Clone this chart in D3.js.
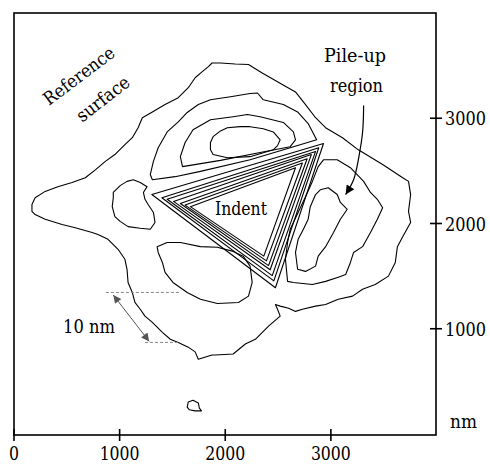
<!DOCTYPE html>
<html>
<head>
<meta charset="utf-8">
<script src="https://cdn.jsdelivr.net/npm/d3@7"></script>
<style>
  body { margin: 0; background: #fff; }
  svg text { font-family: "DejaVu Serif", "Noto Serif", serif; }
</style>
</head>
<body>
<div id="indent_map"></div>
<script>
// tick values (nm)
var xTicks = [0, 1000, 2000, 3000];
var yTicks = [1000, 2000, 3000];

// contour lines, [x nm, y nm]
var outerContour = [
  [170,2180],[200,2245],[295,2305],[415,2350],[550,2390],[675,2435],[770,2510],[865,2590],
  [955,2655],[1050,2750],[1120,2815],[1175,2910],[1215,3005],[1310,3060],[1430,3130],
  [1555,3195],[1650,3290],[1715,3385],[1780,3440],[1840,3490],[1875,3525],[1955,3525],
  [2095,3515],[2220,3510],[2350,3430],[2540,3320],[2665,3250],[2760,3130],[2855,3005],
  [2950,2910],[3110,2815],[3260,2700],[3490,2560],[3680,2435],[3735,2400],[3755,2275],
  [3735,2115],[3755,2010],[3680,1875],[3630,1780],[3610,1630],[3545,1500],[3420,1420],
  [3300,1375],[3205,1310],[3070,1280],[2950,1230],[2855,1215],[2730,1185],[2665,1165],
  [2600,1195],[2520,1215],[2475,1230],[2495,1185],[2520,1120],[2410,1025],[2285,900],
  [2190,855],[2075,760],[1905,750],[1875,750],[1745,710],[1715,780],[1650,825],[1555,870],
  [1480,900],[1405,965],[1310,1060],[1240,1120],[1195,1185],[1145,1250],[1120,1345],
  [1080,1440],[1070,1565],[1050,1660],[985,1755],[890,1850],[795,1895],[740,1915],
  [580,1960],[455,1990],[295,2040],[200,2085],[170,2115]
];

var upperLobeOuter = [
  [2865,2795],[2785,2950],[2685,3060],[2550,3130],[2360,3175],[2305,3240],[2235,3235],
  [2050,3205],[1860,3175],[1745,3130],[1640,3055],[1555,2965],[1450,2870],[1365,2720],
  [1320,2590],[1290,2465],[1310,2415],[1525,2445],[1765,2495],[2235,2605],[2615,2720]
];

var upperLobeMiddle = [
  [1595,2540],[1575,2635],[1620,2770],[1695,2890],[1860,2985],[2075,3015],[2210,3035],
  [2330,3015],[2550,2960],[2645,2870],[2665,2795],[2615,2730],[2330,2675],[1955,2600]
];

var upperLobeInner = [
  [1860,2770],[1885,2825],[1955,2880],[2020,2910],[2140,2920],[2235,2920],[2360,2900],
  [2455,2870],[2520,2795],[2495,2740],[2455,2700],[2235,2635],[2020,2625],[1885,2655],
  [1860,2700]
];

var leftLobe = [
  [940,2295],[1005,2360],[1070,2400],[1130,2415],[1195,2390],[1260,2350],[1225,2295],
  [1240,2230],[1270,2180],[1320,2105],[1335,2010],[1290,1945],[1195,1955],[1080,1970],
  [1005,2020],[955,2065],[930,2160],[940,2245]
];

var lowerLobe = [
  [1355,1780],[1450,1820],[1575,1820],[1765,1780],[1925,1775],[2075,1735],[2170,1690],
  [2235,1595],[2255,1440],[2220,1310],[2125,1250],[1925,1240],[1765,1280],[1640,1345],
  [1505,1440],[1430,1535],[1405,1630],[1365,1725]
];

var rightLobeOuter = [
  [2930,2605],[3060,2605],[3185,2530],[3310,2400],[3375,2295],[3440,2230],[3490,2150],
  [3440,2040],[3375,1915],[3300,1780],[3215,1725],[3185,1630],[3140,1515],[3070,1490],
  [2950,1450],[2825,1420],[2645,1440],[2590,1450],[2570,1660],[2590,1820],[2615,1945],
  [2690,2105],[2760,2255],[2825,2400],[2880,2540]
];

var rightLobeInner = [
  [2900,2320],[2975,2340],[3060,2275],[3090,2200],[3155,2135],[3090,2040],[3025,1915],
  [2950,1780],[2880,1690],[2855,1595],[2760,1545],[2685,1565],[2665,1725],[2690,1850],
  [2740,1945],[2785,2040],[2805,2160],[2855,2275]
];

// nested indent triangles: left corner, top-right corner, bottom corner
var indentTriangles = [
  [[1305,2275],[2930,2760],[2475,1390]],
  [[1400,2245],[2885,2720],[2460,1455]],
  [[1450,2230],[2855,2685],[2445,1505]],
  [[1510,2210],[2815,2655],[2425,1560]],
  [[1575,2190],[2775,2615],[2410,1600]],
  [[1620,2175],[2730,2575],[2390,1645]],
  [[1670,2160],[2665,2530],[2365,1690]]
];

var smallBump = [
  [1640,255],[1650,305],[1695,320],[1745,295],[1755,245],[1775,220],[1715,220],[1660,230]
];

// 10 nm scale marker
var scaleUpper = [[870,1345],[1575,1345]];
var scaleLower = [[1240,870],[1555,870]];
var scaleArrow = [[940,1320],[1280,880]];

// arrow to the pile-up region
var pileArrow = [[3310,3120],[3300,2865],[3260,2605],[3215,2415],[3140,2275]];

var width = 490, height = 464;

var svg = d3.select("#indent_map")
  .append("svg")
    .attr("width", width)
    .attr("height", height);

var x = d3.scaleLinear().domain([0, 4000]).range([14, 436.5]);
var y = d3.scaleLinear().domain([0, 4000]).range([434, 13]);

var defs = svg.append("defs");
defs.append("marker")
    .attr("id", "blackHead")
    .attr("viewBox", "0 0 10 10")
    .attr("refX", 10).attr("refY", 5)
    .attr("markerWidth", 12).attr("markerHeight", 9)
    .attr("markerUnits", "userSpaceOnUse")
    .attr("orient", "auto")
  .append("path")
    .attr("d", "M0,0L10,5L0,10z")
    .attr("fill", "#000");
defs.append("marker")
    .attr("id", "grayHead")
    .attr("viewBox", "0 0 10 10")
    .attr("refX", 10).attr("refY", 5)
    .attr("markerWidth", 10).attr("markerHeight", 8)
    .attr("markerUnits", "userSpaceOnUse")
    .attr("orient", "auto-start-reverse")
  .append("path")
    .attr("d", "M0,0L10,5L0,10z")
    .attr("fill", "#555");

// frame
svg.append("rect")
    .attr("x", 14).attr("y", 13)
    .attr("width", 422).attr("height", 422)
    .attr("fill", "none")
    .attr("stroke", "#000")
    .attr("stroke-width", 1.6);

// contours
var closedLine = d3.line()
    .x(function(d) { return x(d[0]); })
    .y(function(d) { return y(d[1]); })
    .curve(d3.curveLinearClosed);

var contours = [outerContour, upperLobeOuter, upperLobeMiddle, upperLobeInner,
                leftLobe, lowerLobe, rightLobeOuter, rightLobeInner, smallBump]
               .concat(indentTriangles);

svg.append("g")
  .selectAll("path")
  .data(contours)
  .enter()
  .append("path")
    .attr("d", closedLine)
    .attr("fill", "none")
    .attr("stroke", "#000")
    .attr("stroke-width", 1.1)
    .attr("stroke-linejoin", "round");

// serif text squeezed to the narrow Times-like widths of the original
function label(sel, txt, len) {
  return sel.append("text")
      .attr("font-size", "18px")
      .attr("textLength", len)
      .attr("lengthAdjust", "spacingAndGlyphs")
      .text(txt);
}

// axes: ticks cross the frame
var bottom = svg.append("g");
bottom.selectAll("line")
  .data(xTicks)
  .enter()
  .append("line")
    .attr("x1", function(d) { return x(d); })
    .attr("x2", function(d) { return x(d); })
    .attr("y1", 429).attr("y2", 441)
    .attr("stroke", "#000").attr("stroke-width", 1.6);
xTicks.forEach(function(d) {
  label(bottom, d, d === 0 ? 10 : 40)
      .attr("x", x(d) - (d === 0 ? 5 : 20))
      .attr("y", 460);
});

var right = svg.append("g");
right.selectAll("line")
  .data(yTicks)
  .enter()
  .append("line")
    .attr("x1", 430).attr("x2", 442)
    .attr("y1", function(d) { return y(d); })
    .attr("y2", function(d) { return y(d); })
    .attr("stroke", "#000").attr("stroke-width", 1.6);
yTicks.forEach(function(d) {
  label(right, d, 41)
      .attr("x", 445)
      .attr("y", y(d) + 7);
});

label(svg, "nm", 27).attr("x", 450).attr("y", 428);

// labels
var plainLine = d3.line()
    .x(function(d) { return x(d[0]); })
    .y(function(d) { return y(d[1]); });

label(svg, "Reference", 84)
    .attr("x", -42).attr("y", 6)
    .attr("transform", "translate(79,76) rotate(-37)");
label(svg, "surface", 62)
    .attr("x", -31).attr("y", 6)
    .attr("transform", "translate(103,99) rotate(-38)");

label(svg, "Pile-up", 62).attr("x", 324).attr("y", 62);
label(svg, "region", 53).attr("x", 330).attr("y", 92);

svg.append("path")
    .attr("d", plainLine.curve(d3.curveNatural)(pileArrow))
    .attr("fill", "none")
    .attr("stroke", "#000")
    .attr("stroke-width", 1.2)
    .attr("marker-end", "url(#blackHead)");

label(svg, "Indent", 52).attr("x", 215).attr("y", 215);

// 10 nm marker
plainLine.curve(d3.curveLinear);
[scaleUpper, scaleLower].forEach(function(seg) {
  svg.append("path")
      .attr("d", plainLine(seg))
      .attr("fill", "none")
      .attr("stroke", "#888")
      .attr("stroke-width", 1)
      .attr("stroke-dasharray", "3,2");
});
svg.append("path")
    .attr("d", plainLine(scaleArrow))
    .attr("fill", "none")
    .attr("stroke", "#555")
    .attr("stroke-width", 1)
    .attr("marker-start", "url(#grayHead)")
    .attr("marker-end", "url(#grayHead)");

label(svg, "10 nm", 52).attr("x", 63).attr("y", 333);
</script>
</body>
</html>
